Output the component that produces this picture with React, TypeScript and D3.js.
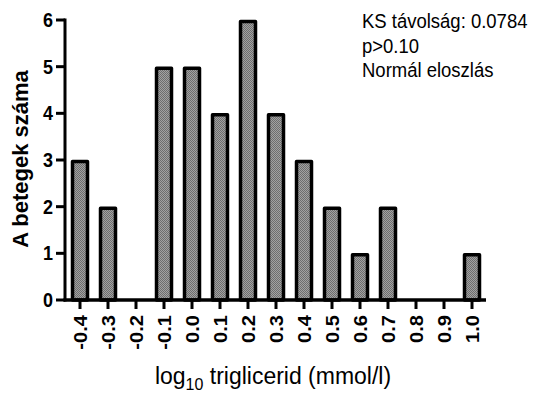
import React from "react";
import * as d3 from "d3";

// Histogram bins (log10 of triglyceride, mmol/l) and patient counts per bin
const binCenters = [-0.4, -0.3, -0.2, -0.1, 0.0, 0.1, 0.2, 0.3, 0.4, 0.5, 0.6, 0.7, 0.8, 0.9, 1.0];
const binCounts = [3, 2, 0, 5, 5, 4, 6, 4, 3, 2, 1, 2, 0, 0, 1];
const binLabels = ["-0.4", "-0.3", "-0.2", "-0.1", "0.0", "0.1", "0.2", "0.3", "0.4", "0.5", "0.6", "0.7", "0.8", "0.9", "1.0"];
const yTicks = [0, 1, 2, 3, 4, 5, 6];
const statLines = ["KS távolság: 0.0784", "p>0.10", "Normál eloszlás"];

const W = 536;
const H = 395;
const FONT = "'Liberation Sans', Arial, Helvetica, sans-serif";

export default function App() {
  const x = d3.scaleLinear().domain([-0.4, 1.0]).range([80, 472]);
  const y = d3.scaleLinear().domain([0, 6]).range([300, 20]);
  const axisX0 = 65;
  const axisX1 = 486;
  const barW = 18;

  return (
    <svg
      width={W}
      height={H}
      viewBox={`0 0 ${W} ${H}`}
      style={{ position: "absolute", left: 0, top: 0, background: "#fff" }}
    >
      <defs>
        <pattern id="dots" width="2" height="2" patternUnits="userSpaceOnUse">
          <rect width="2" height="2" fill="#a2a2a2" />
          <rect width="1" height="1" fill="#6e6e6e" />
          <rect x="1" y="1" width="1" height="1" fill="#6e6e6e" />
        </pattern>
      </defs>

      {/* bars */}
      {binCenters.map((c, i) =>
        binCounts[i] > 0 ? (
          <rect
            key={i}
            x={x(c) - barW / 2 + 1.5}
            y={y(binCounts[i]) + 1.5}
            width={barW - 3}
            height={y(0) - y(binCounts[i]) - 1.5}
            fill="url(#dots)"
            stroke="#000"
            strokeWidth={3.5}
            strokeLinejoin="round"
          />
        ) : null
      )}

      {/* y axis */}
      <line x1={axisX0} x2={axisX0} y1={y(6) - 1.5} y2={y(0) + 1.5} stroke="#000" strokeWidth={3} />
      {yTicks.map((t) => (
        <g key={t}>
          <line x1={axisX0 - 9} x2={axisX0} y1={y(t)} y2={y(t)} stroke="#000" strokeWidth={3} />
          <text
            transform={`translate(53,${y(t)}) scale(1,1.08)`}
            dy="0.36em"
            textAnchor="end"
            fontFamily={FONT}
            fontWeight="bold"
            fontSize={18}
          >
            {t}
          </text>
        </g>
      ))}

      {/* x axis */}
      <line x1={axisX0 - 1.5} x2={axisX1} y1={y(0)} y2={y(0)} stroke="#000" strokeWidth={3.5} />
      {binCenters.map((c, i) => (
        <g key={i}>
          <line x1={x(c)} x2={x(c)} y1={y(0)} y2={y(0) + 9} stroke="#000" strokeWidth={3} />
          <text
            transform={`translate(${x(c) + 6.5},315) rotate(-90) scale(1.15,1)`}
            textAnchor="end"
            fontFamily={FONT}
            fontWeight="bold"
            fontSize={17.5}
          >
            {binLabels[i]}
          </text>
        </g>
      ))}

      {/* axis titles */}
      <text
        transform="translate(28,159) rotate(-90)"
        textAnchor="middle"
        fontFamily={FONT}
        fontWeight="bold"
        fontSize={22}
      >
        A betegek száma
      </text>
      <text
        transform="translate(273,384) scale(1,1.08)"
        textAnchor="middle"
        fontFamily={FONT}
        fontSize={23}
      >
        log
        <tspan dy={6} fontSize={16}>10</tspan>
        <tspan dy={-6}> triglicerid (mmol/l)</tspan>
      </text>

      {/* test statistics */}
      {statLines.map((s, i) => (
        <text
          key={i}
          transform={`translate(362,${28 + i * 24.5}) scale(1,1.06)`}
          fontFamily={FONT}
          fontSize={18.5}
        >
          {s}
        </text>
      ))}
    </svg>
  );
}
